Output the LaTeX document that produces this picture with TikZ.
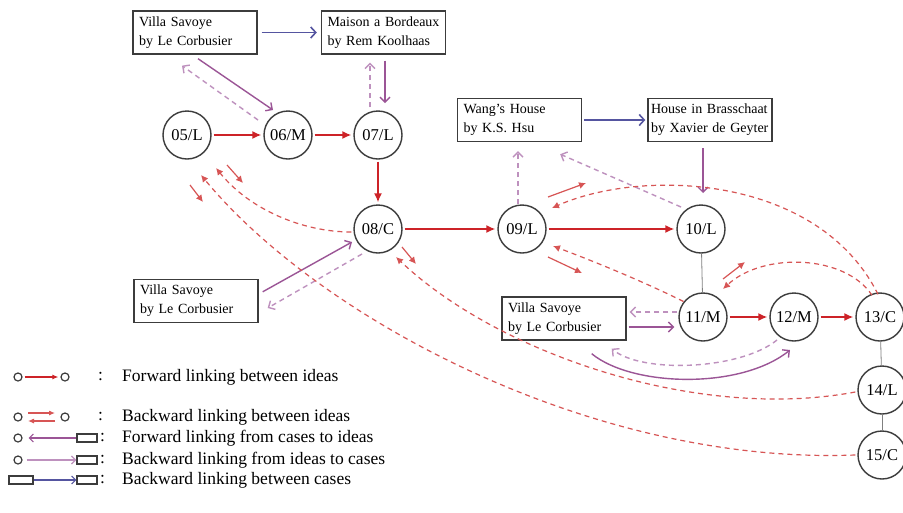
\documentclass[tikz,border=0pt]{standalone}
\usepackage{fontspec}
\setmainfont{Liberation Serif}
\usetikzlibrary{arrows.meta,calc}
\definecolor{fwdred}{RGB}{205,35,40}
\definecolor{bkred}{RGB}{215,85,85}
\definecolor{caseidea}{RGB}{155,85,150}
\definecolor{ideacase}{RGB}{190,145,190}
\definecolor{casecase}{RGB}{85,85,160}
\definecolor{edgegray}{RGB}{60,60,60}
\begin{document}
\begin{tikzpicture}[x=1pt,y=-1pt,
 idea/.style={circle,draw=edgegray,line width=1.4pt,minimum size=48pt,inner sep=0pt,font=\fontsize{16.5}{18}\selectfont},
 case/.style={draw=edgegray,line width=1.4pt,minimum width=124pt,minimum height=43pt,inner sep=0pt,text width=112pt,align=left,font=\fontsize{14}{19}\selectfont},
 fwd/.style={draw=fwdred,line width=1.5pt,shorten >=2pt,shorten <=2pt,-{Latex[length=9pt,width=8pt]}},
 bkdash/.style={draw=bkred,line width=1.2pt,dash pattern=on 5pt off 4pt,-{Latex[length=7pt,width=7pt]}},
 bkshort/.style={draw=bkred,line width=1.2pt,-{Latex[length=7pt,width=7pt]}},
 ci/.style={draw=caseidea,line width=1.4pt,-{Straight Barb[length=5pt,width=10pt]}},
 ic/.style={draw=ideacase,line width=1.4pt,dash pattern=on 5pt off 4pt,-{Straight Barb[length=5pt,width=10pt]}},
 icl/.style={draw=ideacase,line width=1.3pt,-{Straight Barb[length=4pt,width=8pt]}},
 cc/.style={draw=casecase,line width=1.6pt,-{Straight Barb[length=5pt,width=11pt]}},
 link/.style={draw=gray,line width=0.8pt},
 lgdot/.style={circle,draw=edgegray,line width=1.2pt,minimum size=8pt,inner sep=0pt},
 lgbox/.style={draw=edgegray,line width=1.2pt,minimum width=20pt,minimum height=8pt,inner sep=0pt},
 lgtext/.style={anchor=west,inner sep=0pt,font=\fontsize{17.5}{19}\selectfont},
]
\fill[white] (0,0) rectangle (903,512);
\useasboundingbox (0,0) rectangle (903,512);

% idea nodes
\node[idea] (n05) at (187,135) {05/L};
\node[idea] (n06) at (288,135) {06/M};
\node[idea] (n07) at (378,135) {07/L};
\node[idea] (n08) at (378,229) {08/C};
\node[idea] (n09) at (522,229) {09/L};
\node[idea] (n10) at (701,229) {10/L};
\node[idea] (n11) at (703,317) {11/M};
\node[idea] (n12) at (794,317) {12/M};
\node[idea] (n13) at (880,317) {13/C};
\node[idea] (n14) at (882,390) {14/L};
\node[idea] (n15) at (882,455) {15/C};

% case nodes
\node[case] (vs1) at (195,32.5) {Villa Savoye\\by Le Corbusier};
\node[case] (mb) at (383.5,32.5) {Maison a Bordeaux\\by Rem Koolhaas};
\node[case] (wh) at (519.5,120) {Wang's House\\by K.S. Hsu};
\node[case,text width=118pt] (hb) at (710,120) {House in Brasschaat\\by Xavier de Geyter};
\node[case] (vs2) at (196,301) {Villa Savoye\\by Le Corbusier};
\node[case] (vs3) at (564,318.5) {Villa Savoye\\by Le Corbusier};

% forward links between ideas
\draw[fwd] (n05) -- (n06);
\draw[fwd] (n06) -- (n07);
\draw[fwd] (n07) -- (n08);
\draw[fwd] (n08) -- (n09);
\draw[fwd] (n09) -- (n10);
\draw[fwd] (n11) -- (n12);
\draw[fwd] (n12) -- (n13);

% plain links
\draw[link] (n10) -- (n11);
\draw[link] (n13) -- (n14);
\draw[link] (n14) -- (n15);

% links between cases
\draw[cc] ([xshift=4pt]vs1.east) -- ([xshift=-4pt]mb.west);
\draw[cc] ([xshift=2pt]wh.east) -- ([xshift=-2pt]hb.west);

% cases to ideas (solid) and ideas to cases (dashed)
\draw[ci] ($(vs1.south)+(3,4)$) -- ($(n06.center)+(-15,-25)$);
\draw[ic] ($(n06.center)+(-30,-15)$) -- ($(vs1.south)+(-13,11)$);
\draw[ci] ($(mb.south)+(1.5,6)$) -- ($(n07.center)+(7,-32)$);
\draw[ic] ($(n07.center)+(-8,-28)$) -- ($(mb.south)+(-13.5,8)$);
\draw[ci] ($(hb.south)+(-7,6)$) -- ($(n10.center)+(2,-36)$);
\draw[ic] ($(n09.center)+(-4,-25)$) -- ($(wh.south)+(-1.5,9)$);
\draw[ic] ($(n10.center)+(-20,-22)$) -- ($(wh.south east)+(-22,12)$);
\draw[ci] ($(vs2.north east)+(4,13)$) -- ($(n08.center)+(-26,13)$);
\draw[ic] ($(n08.center)+(-16,25)$) -- ($(vs2.east)+(9,7)$);
\draw[ci] ($(vs3.east)+(2,8.5)$) -- ($(n11.west)+(-4,10)$);
\draw[ic] ($(n11.west)+(-1,-5)$) -- ($(vs3.east)+(3,-6.5)$);
\draw[ic] ($(n12.center)+(-17,23)$) .. controls +(-37,30) and +(30,25) .. ($(vs3.south east)+(-15,8)$);
\draw[ci] ($(vs3.south east)+(-35,13)$) .. controls +(40,33) and +(-50,40) .. ($(n12.center)+(-4,33)$);

% backward links between ideas
\draw[bkdash] ($(n08.west)+(-2,3)$) .. controls +(-48,0) and +(34,42) .. ($(n05.center)+(29,33)$);
\draw[bkshort] ($(n05.center)+(40,30)$) -- ($(n05.center)+(56,48)$);
\draw[bkdash] ($(n15.west)+(-2,0)$) .. controls +(-260,10) and +(120,145) .. ($(n05.center)+(14,40)$);
\draw[bkshort] ($(n05.center)+(3,50)$) -- ($(n05.center)+(16,67)$);
\draw[bkdash] ($(n14.west)+(-2,2)$) .. controls +(-160,30) and +(100,95) .. ($(n08.center)+(18,28)$);
\draw[bkshort] ($(n08.center)+(24,18)$) -- ($(n08.center)+(38,35)$);
\draw[bkdash] ($(n13.north)+(-2,2)$) .. controls +(-60,-120) and +(90,-40) .. ($(n09.center)+(30,-21)$);
\draw[bkshort] ($(n09.center)+(26,-32)$) -- ($(n09.center)+(64,-46)$);
\draw[bkdash] ($(n11.north west)+(-2,2)$) .. controls +(-40,-20) and +(40,15) .. ($(n09.center)+(31,17)$);
\draw[bkshort] ($(n09.center)+(26,28)$) -- ($(n09.center)+(60,44)$);
\draw[bkdash] ($(n13.north)+(-8,3)$) .. controls +(-27,-41) and +(40,-37) .. ($(n11.center)+(20,-28)$);
\draw[bkshort] ($(n11.center)+(20,-38)$) -- ($(n11.center)+(42,-55)$);

% legend
\node[lgdot] (l1a) at (18,377) {};
\node[lgdot] (l1b) at (65,377) {};
\draw[fwd,-{Latex[length=6pt,width=5pt]},line width=1.1pt] (l1a) -- (l1b);
\node[lgtext] (c1) at (98,377) {:};
\node[lgtext] (t1) at (122,377) {Forward linking between ideas};

\node[lgdot] (l2a) at (18,417) {};
\node[lgdot] (l2b) at (65,417) {};
\coordinate (l2c) at (28,413);
\coordinate (l2d) at (55,413);
\coordinate (l2e) at (28,421);
\coordinate (l2f) at (55,421);
\draw[bkshort,line width=1.1pt,-{Latex[length=6pt,width=5pt]}] (l2c) -- (l2d);
\draw[bkshort,line width=1.1pt,-{Latex[length=6pt,width=5pt]}] (l2f) -- (l2e);
\node[lgtext] (c2) at (98,417) {:};
\node[lgtext] (t2) at (122,417) {Backward linking between ideas};

\node[lgdot] (l3a) at (18,438) {};
\node[lgbox] (l3b) at (87,438) {};
\draw[ci,line width=1.1pt,{Straight Barb[length=4pt,width=8pt]}-] ([xshift=6pt]l3a.east) -- (l3b.west);
\node[lgtext] (c3) at (100,438) {:};
\node[lgtext] (t3) at (122,438) {Forward linking from cases to ideas};

\node[lgdot] (l4a) at (18,460) {};
\node[lgbox] (l4b) at (87,460) {};
\draw[icl] ([xshift=4pt]l4a.east) -- (l4b.west);
\node[lgtext] (c4) at (100,460) {:};
\node[lgtext] (t4) at (122,460) {Backward linking from ideas to cases};

\node[lgbox,minimum width=24pt] (l5a) at (21,480) {};
\node[lgbox] (l5b) at (87,480) {};
\draw[cc,line width=1.1pt,-{Straight Barb[length=4pt,width=8pt]}] (l5a.east) -- (l5b.west);
\node[lgtext] (c5) at (100,480) {:};
\node[lgtext] (t5) at (122,480) {Backward linking between cases};
\end{tikzpicture}
\end{document}
